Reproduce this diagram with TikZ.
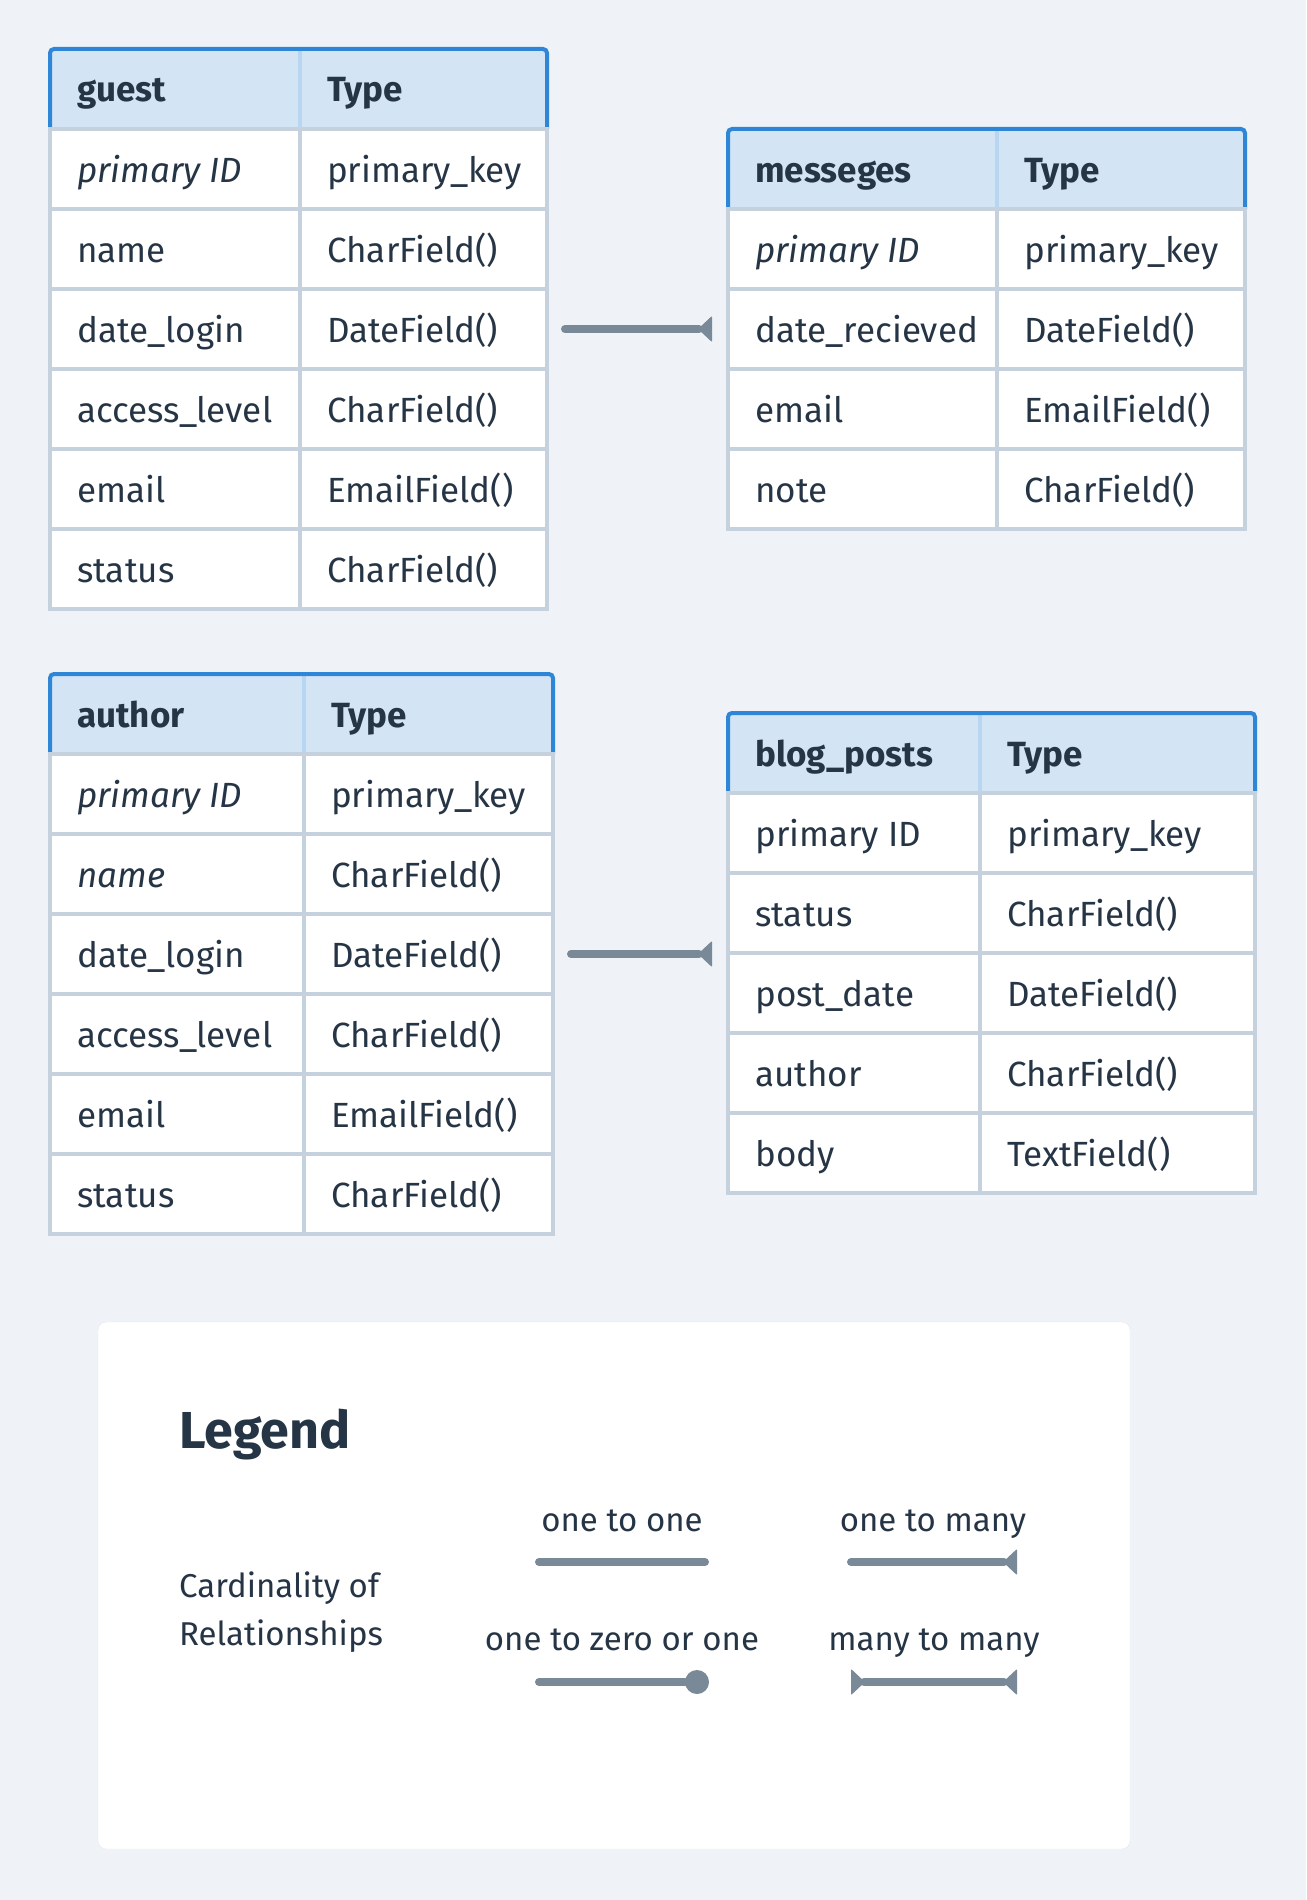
\documentclass[tikz,border=0pt]{standalone}
\usepackage{fontspec}
\setmainfont{Fira Sans}
\usetikzlibrary{arrows.meta}

\definecolor{fondo}{HTML}{EFF3F7}
\definecolor{texto}{HTML}{263545}
\definecolor{cabfondo}{HTML}{D3E5F5}
\definecolor{cabborde}{HTML}{2F86D6}
\definecolor{cabdiv}{HTML}{B8D6F2}
\definecolor{rejilla}{HTML}{C5D1DC}
\definecolor{relacion}{HTML}{7A8998}
\definecolor{marco}{HTML}{E3E8EE}

\tikzset{
  celda/.style={anchor=base west, inner sep=0pt, text=texto, font=\fontsize{35}{42}\selectfont},
  titulo/.style={celda, font=\fontsize{35}{42}\selectfont\bfseries},
  etiqueta/.style={anchor=base, inner sep=0pt, text=texto, font=\fontsize{33}{40}\selectfont},
  rel/.style={draw=relacion, line width=8pt, line cap=round},
  pata/.tip={Triangle[reversed, length=14pt, width=26pt, line width=1pt, round]},
  muchos/.style={-pata},
  muchosmuchos/.style={pata-pata},
  ceroouno/.style={-{Circle[length=24pt, line width=0pt]}},
}

% #1 nombre, #2 titulo, #3 x izq, #4 x columna, #5 x der, #6 y arriba, #7 filas
\newcommand{\tabla}[7]{%
  \foreach [count=\i] \campo/\tipo in {#7} {
    \fill[white] (#3,#6+80*\i) rectangle (#5,#6+80*\i+80);
    \draw[rejilla, line width=4pt] (#3,#6+80*\i) rectangle (#5,#6+80*\i+80);
    \draw[rejilla, line width=4pt] (#4,#6+80*\i) -- (#4,#6+80*\i+80);
    \coordinate (#1-w\i) at (#3,#6+80*\i+40);
    \coordinate (#1-e\i) at (#5,#6+80*\i+40);
    \node[celda] (#1-c\i) at (#3+27,#6+80*\i+53) {\campo};
    \node[celda] (#1-t\i) at (#4+27,#6+80*\i+53) {\tipo};
  }
  % cabecera
  \fill[cabfondo, rounded corners=4pt] (#3,#6) rectangle (#5,#6+80);
  \draw[cabdiv, line width=4pt] (#4,#6+2) -- (#4,#6+80);
  \draw[cabborde, line width=4pt, rounded corners=4pt] (#3,#6+80) -- (#3,#6) -- (#5,#6) -- (#5,#6+80);
  \draw[rejilla, line width=4pt] (#3-2,#6+80) -- (#5+2,#6+80);
  \node[titulo] (#1-h) at (#3+27,#6+53) {#2};
  \node[titulo] (#1-ht) at (#4+27,#6+53) {Type};
}

\begin{document}
\begin{tikzpicture}[x=1pt, y=-1pt]
  % Fondo
  \fill[fondo] (0,0) rectangle (1306,1900);
  \useasboundingbox (0,0) rectangle (1306,1900);

  % Tabla guest
  \tabla{guest}{guest}{50}{300}{547}{49}{\textit{primary ID}/primary\_key, name/CharField(),
    date\_login/DateField(), access\_level/CharField(), email/EmailField(), status/CharField()}
  % Tabla messeges
  \tabla{mess}{messeges}{728}{997}{1245}{129}{\textit{primary ID}/primary\_key,
    date\_recieved/DateField(), email/EmailField(), note/CharField()}
  % Tabla author
  \tabla{author}{author}{50}{304}{553}{674}{\textit{primary ID}/primary\_key, \textit{name}/CharField(),
    date\_login/DateField(), access\_level/CharField(), email/EmailField(), status/CharField()}
  % Tabla blog_posts
  \tabla{blog}{blog\_posts}{728}{980}{1255}{713}{primary ID/primary\_key, status/CharField(),
    post\_date/DateField(), author/CharField(), body/TextField()}

  % Relaciones
  \draw[rel, muchos, shorten <=18pt, shorten >=16pt] (guest-e3) -- (guest-e3 -| mess-w2);
  \draw[rel, muchos, shorten <=18pt, shorten >=16pt] (author-e3) -- (author-e3 -| blog-w1);

  % Leyenda
  \draw[fill=white, draw=marco, rounded corners=8pt] (98,1322) rectangle (1130,1849);
  \node[anchor=base west, inner sep=0pt, text=texto, font=\fontsize{52}{60}\selectfont\bfseries] (leyenda) at (179,1448) {Legend};
  \node[celda, font=\fontsize{33}{40}\selectfont] (card1) at (179,1597) {Cardinality of};
  \node[celda, font=\fontsize{33}{40}\selectfont] (card2) at (179,1645) {Relationships};

  \node[etiqueta] (unouno) at (622,1531) {one to one};
  \node[etiqueta] (unomuchos) at (933,1531) {one to many};
  \node[etiqueta] (unocero) at (622,1650) {one to zero or one};
  \node[etiqueta] (muchosm) at (934,1650) {many to many};

  \coordinate (uu-a) at (539,1562);
  \coordinate (uu-b) at (705,1562);
  \coordinate (um-a) at (851,1562);
  \coordinate (um-b) at (1017,1562);
  \coordinate (uc-a) at (539,1682);
  \coordinate (uc-b) at (709,1682);
  \coordinate (mm-a) at (851,1682);
  \coordinate (mm-b) at (1017,1682);

  \draw[rel] (uu-a) -- (uu-b);
  \draw[rel, muchos] (um-a) -- (um-b);
  \draw[rel, ceroouno] (uc-a) -- (uc-b);
  \draw[rel, muchosmuchos] (mm-a) -- (mm-b);
\end{tikzpicture}
\end{document}
